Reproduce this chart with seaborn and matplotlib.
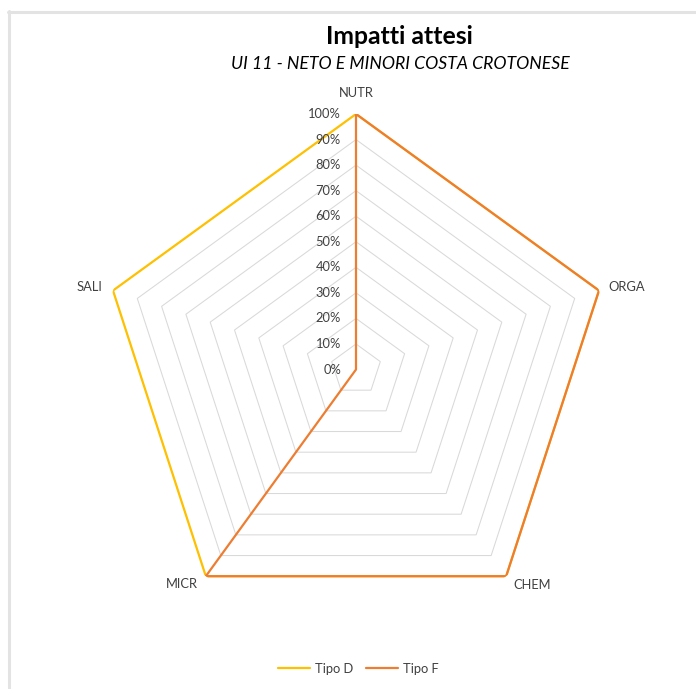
import numpy as np
import pandas as pd
import matplotlib
matplotlib.use("Agg")
import matplotlib.pyplot as plt
from matplotlib.lines import Line2D
import seaborn as sns

# Data
categories = ["NUTR", "ORGA", "CHEM", "MICR", "SALI"]
tipo_d = [1.0, 1.0, 1.0, 1.0, 1.0]
tipo_f = [1.0, 1.0, 1.0, 1.0, 0.0]
series_names = ["Tipo D", "Tipo F"]
ring_levels = [0.1, 0.2, 0.3, 0.4, 0.5, 0.6, 0.7, 0.8, 0.9, 1.0]
ring_labels = ["0%", "10%", "20%", "30%", "40%", "50%", "60%", "70%", "80%", "90%", "100%"]

title = "Impatti attesi"
subtitle = "UI 11 - NETO E MINORI COSTA CROTONESE"

sns.set_theme(style="white")
plt.rcParams["font.family"] = ["Lato", "DejaVu Sans"]

W, H = 696, 689
fig = plt.figure(figsize=(W / 100, H / 100), dpi=100)

cx, cy, R = 356, 369.5, 255.5
ax = fig.add_axes([(cx - R) / W, (H - cy - R) / H, 2 * R / W, 2 * R / H], projection="polar")
ax.set_theta_offset(np.pi / 2)
ax.set_theta_direction(-1)
ax.set_ylim(0, 1)
ax.grid(False)
ax.spines["polar"].set_visible(False)
ax.set_xticks([])
ax.set_yticks([])
ax.patch.set_alpha(0)

n = len(categories)
angles = np.arange(n) * 2 * np.pi / n
closed = np.append(angles, angles[0])

# pentagon gridlines
for lv in ring_levels:
    ax.plot(closed, [lv] * (n + 1), color="#D9D9D9", lw=0.75, zorder=1)

colors = {"Tipo D": "#FFC000", "Tipo F": "#ED7D31"}
rows = []
for name, vals in zip(series_names, [tipo_d, tipo_f]):
    vv = list(vals) + [vals[0]]
    for i, (a, v) in enumerate(zip(closed, vv)):
        rows.append({"theta": a, "r": v, "serie": name, "order": i})
df = pd.DataFrame(rows)
for name in series_names:
    sub = df[df["serie"] == name]
    sns.lineplot(data=sub, x="theta", y="r", sort=False, estimator=None,
                 color=colors[name], lw=1.6, ax=ax, zorder=3)
ax.set_xlabel("")
ax.set_ylabel("")
ax.set_ylim(0, 1)

# radial tick labels
for lv, lab in zip([0.0] + ring_levels, ring_labels):
    ax.annotate(lab, xy=(0, lv), xytext=(-15, 0), textcoords="offset pixels",
                ha="right", va="center", fontsize=9.3, color="#404040")

# category labels
offsets = {
    "NUTR": ((0, 21), "center"),
    "ORGA": ((9, 3.5), "left"),
    "CHEM": ((7, -8.5), "left"),
    "MICR": ((-8, -8), "right"),
    "SALI": ((-11, 3.5), "right"),
}
for a, cat in zip(angles, categories):
    off, ha = offsets[cat]
    ax.annotate(cat, xy=(a, 1.0), xytext=off, textcoords="offset pixels",
                ha=ha, va="center", fontsize=9.3, color="#404040")

# titles
fig.text(399 / W, 1 - 37 / H, title, ha="center", va="center",
         fontsize=17.8, fontweight="bold", color="black")
fig.text(400 / W, 1 - 64 / H, subtitle, ha="center", va="center",
         fontsize=12.7, style="italic", color="black")

# legend
handles = [Line2D([], [], color=colors[s], lw=1.6) for s in series_names]
fig.legend(handles, series_names, loc="center", ncol=2, frameon=False,
           bbox_to_anchor=(358 / W, 1 - 669 / H), fontsize=9.3,
           handlelength=2.5, handletextpad=0.35, columnspacing=1.0,
           labelcolor="#404040")

# chart area border (top and left visible)
fig.add_artist(Line2D([8 / W, 1], [1 - 12 / H] * 2, color="#E3E3E3", lw=2.2,
                      transform=fig.transFigure))
fig.add_artist(Line2D([9 / W] * 2, [1 - 11 / H, 0], color="#E3E3E3", lw=2.2,
                      transform=fig.transFigure))

fig.savefig("out.png", dpi=100)
